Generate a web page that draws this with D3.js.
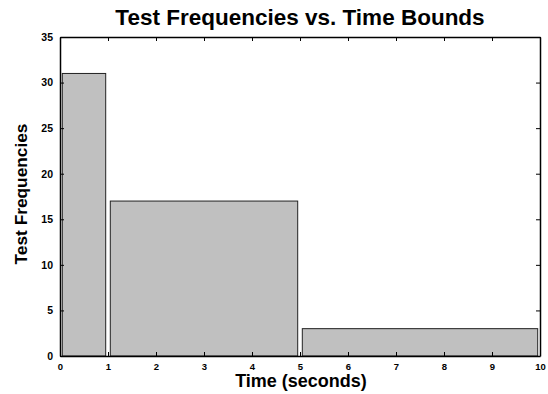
<!DOCTYPE html>
<html>
<head>
<meta charset="utf-8">
<script src="https://cdn.jsdelivr.net/npm/d3@7"></script>
<style>
  body { margin: 0; background: #fff; }
  text { font-family: "Liberation Sans", Arial, sans-serif; font-weight: bold; }
</style>
</head>
<body>
<script>
// bins of the histogram
const binStart = [0, 1, 5];
const binEnd = [1, 5, 10];
const counts = [31, 17, 3];
const xTicks = [0, 1, 2, 3, 4, 5, 6, 7, 8, 9, 10];
const yTicks = [0, 5, 10, 15, 20, 25, 30, 35];

const width = 548, height = 394;
const margin = { top: 37, right: 8, bottom: 38, left: 60 };

const svg = d3.select('body').append('svg')
    .attr('width', width)
    .attr('height', height);

const x = d3.scaleLinear().domain([0, 10]).range([margin.left, width - margin.right]);
const y = d3.scaleLinear().domain([0, 35]).range([height - margin.bottom, margin.top]);

const inset = 2.3;

svg.append('g')
    .selectAll('rect')
    .data(counts)
    .join('rect')
    .attr('x', (d, i) => x(binStart[i]) + inset)
    .attr('width', (d, i) => x(binEnd[i]) - x(binStart[i]) - 2 * inset)
    .attr('y', d => y(d))
    .attr('height', d => y(0) - y(d))
    .attr('fill', '#c0c0c0')
    .attr('stroke', '#222')
    .attr('stroke-width', 1);

const tick = 4;
const fmt = d3.format('d');

// bottom axis, ticks pointing in
const xAxis = svg.append('g')
    .attr('transform', `translate(0,${y(0)})`)
    .call(d3.axisBottom(x).tickValues(xTicks).tickFormat(fmt).tickSizeInner(-tick).tickSizeOuter(0).tickPadding(7));
// top axis
svg.append('g')
    .attr('transform', `translate(0,${y(35)})`)
    .call(d3.axisTop(x).tickValues(xTicks).tickFormat('').tickSizeInner(-tick).tickSizeOuter(0));
// left axis
const yAxis = svg.append('g')
    .attr('transform', `translate(${x(0)},0)`)
    .call(d3.axisLeft(y).tickValues(yTicks).tickFormat(fmt).tickSizeInner(-tick).tickSizeOuter(0).tickPadding(7));
// right axis
svg.append('g')
    .attr('transform', `translate(${x(10)},0)`)
    .call(d3.axisRight(y).tickValues(yTicks).tickFormat('').tickSizeInner(-tick).tickSizeOuter(0));

svg.selectAll('.domain').attr('stroke', '#000').attr('stroke-width', 1.5);
svg.selectAll('.tick line').attr('stroke', '#000');
svg.selectAll('.tick text').attr('fill', '#000')
    .attr('font-family', '"Liberation Sans", Arial, sans-serif').attr('font-weight', 'bold');
xAxis.selectAll('.tick text').attr('font-size', 9.5);
yAxis.selectAll('.tick text').attr('font-size', 10.5);

svg.append('text')
    .attr('x', 300).attr('y', 25)
    .attr('text-anchor', 'middle')
    .attr('font-size', 22.5)
    .text('Test Frequencies vs. Time Bounds');

svg.append('text')
    .attr('x', 301).attr('y', 387)
    .attr('text-anchor', 'middle')
    .attr('font-size', 18)
    .text('Time (seconds)');

svg.append('text')
    .attr('transform', 'translate(27,194) rotate(-90)')
    .attr('text-anchor', 'middle')
    .attr('font-size', 17.3)
    .text('Test Frequencies');
</script>
</body>
</html>
